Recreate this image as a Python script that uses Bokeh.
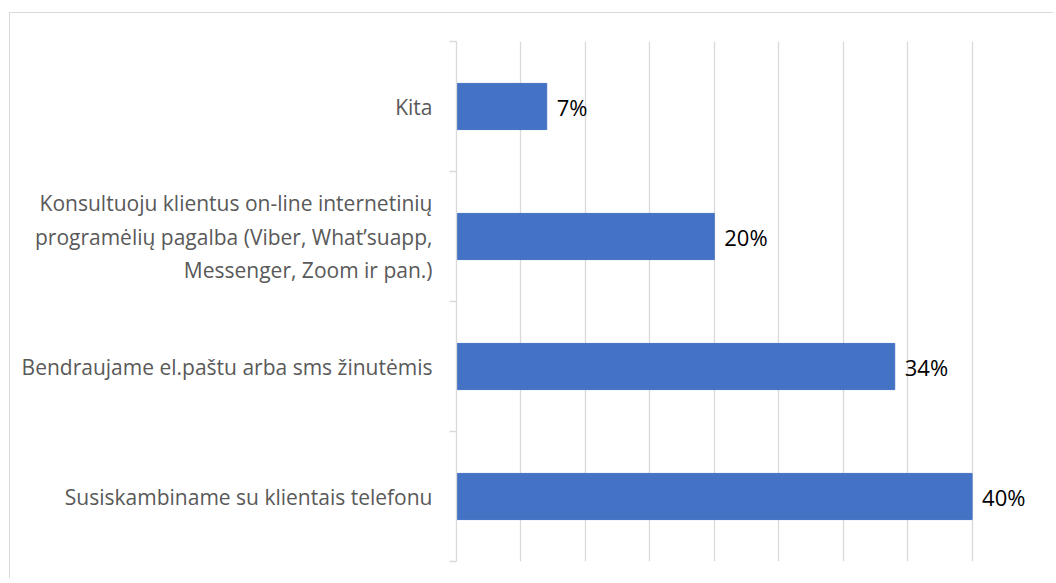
from bokeh.plotting import figure
from bokeh.models import FixedTicker, Range1d, ColumnDataSource, LabelSet
from bokeh.core.properties import value
from bokeh.embed import file_html
from bokeh.resources import INLINE

# data (bottom to top)
categories = [
    "Susiskambiname su klientais telefonu",
    "Bendraujame el.paštu arba sms žinutėmis",
    "Konsultuoju klientus on-line internetinių\nprogramėlių pagalba (Viber, What’suapp,\nMessenger, Zoom ir pan.)",
    "Kita",
]
values = [0.40, 0.34, 0.20, 0.07]
value_labels = ["40%", "34%", "20%", "7%"]
x_ticks = [0.0, 0.05, 0.10, 0.15, 0.20, 0.25, 0.30, 0.35, 0.40, 0.45]

n = len(categories)
centers = [i + 0.5 for i in range(n)]
bounds = [float(i) for i in range(n + 1)]

p = figure(width=1044, height=566,
           x_range=Range1d(0, 0.45), y_range=Range1d(0, n),
           output_backend="svg", toolbar_location=None,
           min_border_left=446, min_border_right=18,
           min_border_top=28, min_border_bottom=18)
p.outline_line_color = None
p.background_fill_color = "white"
p.border_fill_color = "white"
p.styles = {"border-top": "1.5px solid #d9d9d9", "border-left": "1.5px solid #d9d9d9",
            "margin-left": "9px", "margin-top": "12px"}

p.xaxis.visible = False
p.xgrid.ticker = FixedTicker(ticks=x_ticks)
p.xgrid.grid_line_color = "#d9d9d9"
p.xgrid.grid_line_width = 1.3
p.ygrid.grid_line_color = None

yax = p.yaxis[0]
yax.ticker = FixedTicker(ticks=centers, minor_ticks=bounds)
yax.major_label_overrides = {c: lab for c, lab in zip(centers, categories)}
yax.major_tick_line_color = None
yax.major_tick_out = 0
yax.major_tick_in = 0
yax.minor_tick_out = 7
yax.minor_tick_in = 0
yax.minor_tick_line_color = "#d9d9d9"
yax.minor_tick_line_width = 1.3
yax.axis_line_color = "#d9d9d9"
yax.axis_line_width = 1.3
yax.major_label_standoff = 17
yax.major_label_text_font = "Open Sans"
yax.major_label_text_font_size = "21px"
yax.major_label_text_color = "#595959"

src = ColumnDataSource(dict(y=centers, v=values, lab=value_labels))
p.hbar(y="y", left=0, right="v", height=0.355, source=src,
       fill_color="#4472C4", line_color="#4472C4")
p.add_layout(LabelSet(x="v", y="y", text="lab", source=src, x_offset=10,
                      text_baseline="middle", text_font=value("Open Sans"),
                      text_font_size="22px", text_color="#000000"))

open("out.html", "w").write(file_html(p, INLINE))
